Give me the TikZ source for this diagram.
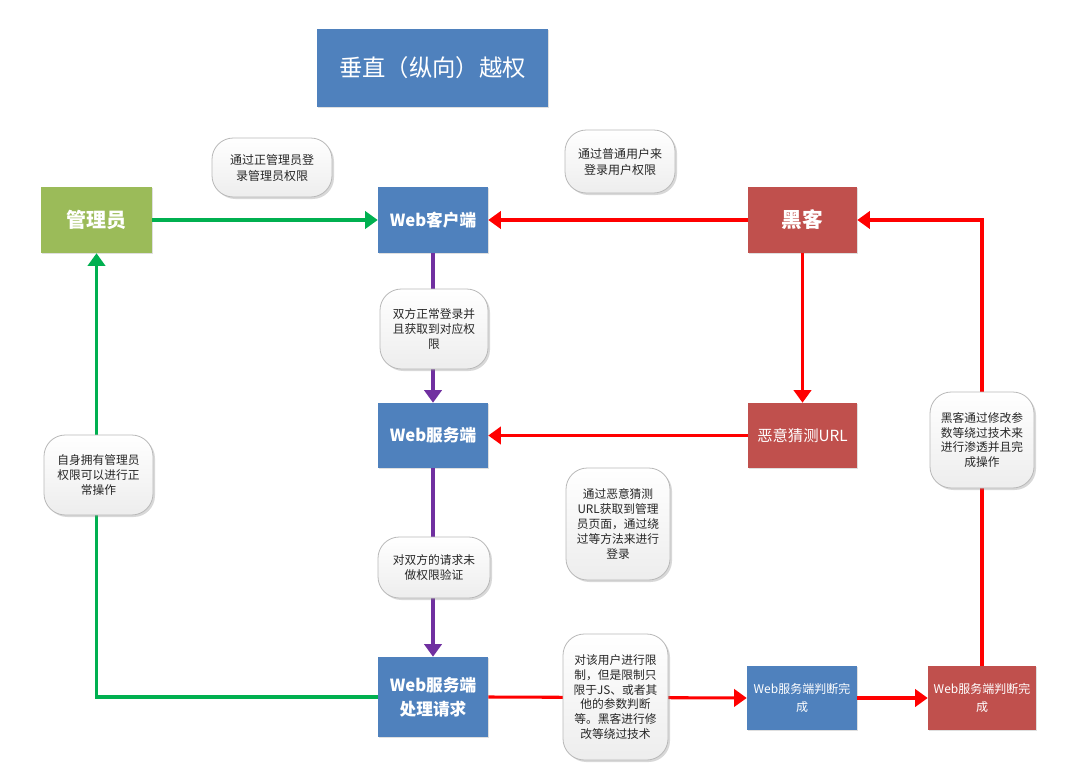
\documentclass[tikz,border=0pt]{standalone}
\usepackage{fontspec}
\setmainfont{Noto Sans CJK SC}
\usetikzlibrary{arrows.meta,shadows}
\definecolor{boxblue}{HTML}{4F81BD}
\definecolor{boxred}{HTML}{C0504D}
\definecolor{boxgreen}{HTML}{9BBB59}
\definecolor{lgreen}{HTML}{00B050}
\definecolor{lred}{HTML}{FF0000}
\definecolor{lpurple}{HTML}{7030A0}
\tikzset{
  sz/.style 2 args={minimum width=#1*0.75pt, minimum height=#2*0.75pt},
  box/.style={draw=none, text=white, align=center, inner sep=2pt,
    drop shadow={shadow xshift=1pt, shadow yshift=-1pt, opacity=.25}},
  bluebox/.style={box, fill=boxblue},
  redbox/.style={box, fill=boxred},
  greenbox/.style={box, fill=boxgreen},
  note/.style={draw=gray!55, line width=0.6pt, rounded corners=16pt,
    top color=white, bottom color=gray!14, align=center, text=black!85,
    inner sep=2pt, font=\fontsize{8.8}{11.2}\selectfont,
    drop shadow={shadow xshift=1.5pt, shadow yshift=-1.5pt, opacity=.3}},
  conn/.style={line width=2.3pt, -{Triangle[length=9.5pt,width=13pt]}},
  gconn/.style={conn, draw=lgreen, color=lgreen},
  rconn/.style={conn, draw=lred, color=lred},
  pconn/.style={conn, draw=lpurple, color=lpurple},
}
\begin{document}
\begin{tikzpicture}[x=0.75pt, y=-0.75pt]
\useasboundingbox (0,0) rectangle (1080,763);
\fill[white] (0,0) rectangle (1080,763);

% title
\node[bluebox, sz={231}{78}, font=\fontsize{17.5}{20}\selectfont] (title) at (432.5,68) {垂直（纵向）越权};

% main boxes
\node[greenbox, sz={111}{66}, font=\fontsize{15}{18}\selectfont\bfseries] (admin) at (96.5,220) {管理员};
\node[bluebox, sz={110}{66}, font=\fontsize{12.5}{15}\selectfont\bfseries] (client) at (433,220) {Web客户端};
\node[redbox, sz={109}{66}, font=\fontsize{15.5}{18}\selectfont\bfseries] (hacker) at (802.5,220) {黑客};
\node[bluebox, sz={110}{65}, font=\fontsize{12.5}{15}\selectfont\bfseries] (server) at (433,435.5) {Web服务端};
\node[redbox, sz={109}{65}, font=\fontsize{11.5}{14}\selectfont] (guess) at (802.5,435.5) {恶意猜测URL};
\node[bluebox, sz={110}{80}, font=\fontsize{12.5}{18}\selectfont\bfseries] (proc) at (433,697) {Web服务端\\处理请求};
\node[bluebox, sz={110}{64}, font=\fontsize{9}{14}\selectfont] (judgeB) at (802,698) {Web服务端判断完\\成};
\node[redbox, sz={108}{64}, font=\fontsize{9}{14}\selectfont] (judgeR) at (982,698) {Web服务端判断完\\成};

% connectors
\draw[gconn] (admin.east) -- (client.west);
\draw[gconn] (proc.west) -| (admin.south);
\draw[rconn] (hacker.west) -- (client.east);
\draw[rconn] (hacker.south) -- (guess.north);
\draw[rconn] (guess.west) -- (server.east);
\draw[pconn] (client.south) -- (server.north);
\draw[pconn] (server.south) -- (proc.north);
\draw[rconn] (proc.east) -- (judgeB.west);
\draw[rconn] (judgeB.east) -- (judgeR.west);
\draw[rconn] (judgeR.north) |- (hacker.east);

% notes
\node[note, sz={120}{59}, font=\fontsize{9}{12}\selectfont] (n1) at (272,167.5) {通过正管理员登\\录管理员权限};
\node[note, sz={110}{63}, font=\fontsize{9}{12}\selectfont] (n2) at (620,161.5) {通过普通用户来\\登录用户权限};
\node[note, sz={108}{80}] (n3) at (434,329) {双方正常登录并\\且获取到对应权\\限};
\node[note, sz={109}{80}] (n4) at (98.5,475) {自身拥有管理员\\权限可以进行正\\常操作};
\node[note, sz={104}{112}] (n5) at (618,524) {通过恶意猜测\\URL获取到管理\\员页面，通过绕\\过等方法来进行\\登录};
\node[note, sz={112}{61}] (n6) at (434,567.5) {对双方的请求未\\做权限验证};
\node[note, sz={105}{126}] (n7) at (615.5,697) {对该用户进行限\\制，但是限制只\\限于JS、或者其\\他的参数判断\\等。黑客进行修\\改等绕过技术};
\node[note, sz={104}{96}] (n8) at (982,440) {黑客通过修改参\\数等绕过技术来\\进行渗透并且完\\成操作};
\end{tikzpicture}
\end{document}
